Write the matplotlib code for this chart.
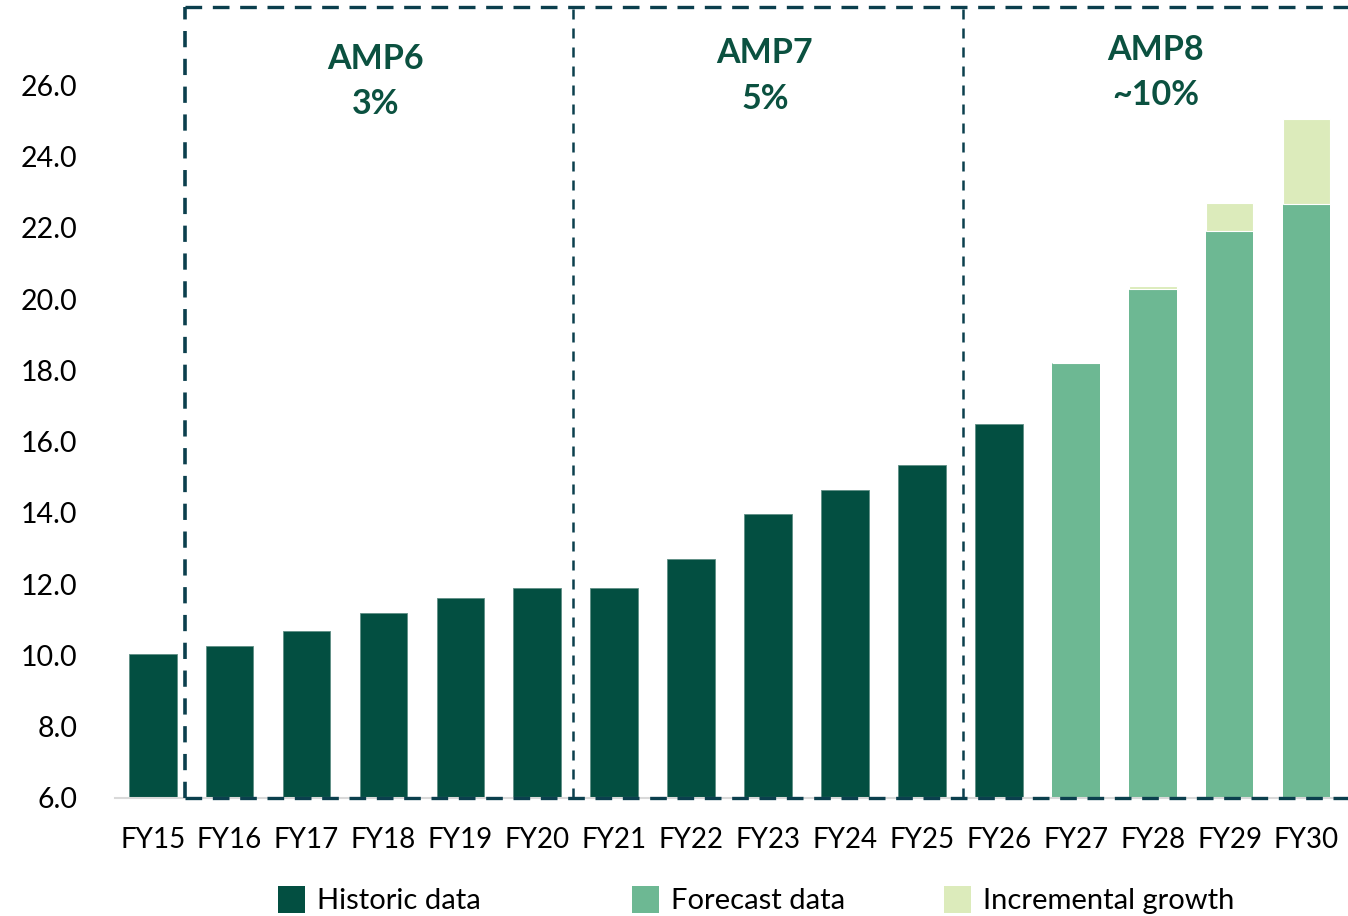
import numpy as np
import matplotlib.pyplot as plt
from matplotlib.patches import Patch

plt.rcParams['font.family'] = ['Lato', 'DejaVu Sans']

years = ['FY15', 'FY16', 'FY17', 'FY18', 'FY19', 'FY20', 'FY21', 'FY22',
         'FY23', 'FY24', 'FY25', 'FY26', 'FY27', 'FY28', 'FY29', 'FY30']
historic = [10.03, 10.28, 10.70, 11.20, 11.60, 11.90, 11.90, 12.70,
            13.98, 14.64, 15.35, 16.51]
forecast = [18.22, 20.28, 21.91, 22.66]
incremental = [0.0, 0.10, 0.78, 2.40]

period_names = ['AMP6', 'AMP7', 'AMP8']
period_growth = ['3%', '5%', '~10%']
period_edges = [0.42, 5.46, 10.53, 16.2]

c_hist = '#034f41'
c_fc = '#6db893'
c_inc = '#dcebbb'
c_box = '#0b3f4d'
c_title = '#0b5140'

fig = plt.figure(figsize=(13.48, 9.16), dpi=100)
ax = fig.add_axes([115 / 1348, 1 - 798 / 916, 1230 / 1348, 791 / 916])

x = np.arange(len(years))
w = 0.62
nh = len(historic)
ax.bar(x[:nh], np.array(historic) - 6, bottom=6, width=w, color=c_hist,
       edgecolor='#5f8f85', linewidth=0.6)
ax.bar(x[nh:], np.array(forecast) - 6, bottom=6, width=w, color=c_fc, linewidth=0)
ax.bar(x[nh:], incremental, bottom=forecast, width=w, color=c_inc,
       edgecolor='white', linewidth=0.8)

ymin, ytop = 6, 28.2
ax.set_ylim(ymin, ytop)
ax.set_xlim(-0.49, 15.5)
ax.set_yticks(np.arange(6, 27, 2))
ax.set_yticklabels([f'{v:.1f}' for v in np.arange(6, 27, 2)], fontsize=20.5)
ax.set_xticks(x)
ax.set_xticklabels(years, fontsize=20)
ax.tick_params(axis='y', length=0, pad=27)
ax.tick_params(axis='x', length=0, pad=21)
for s in ['top', 'right', 'left']:
    ax.spines[s].set_visible(False)
ax.spines['bottom'].set_color('#d9d9d9')
ax.spines['bottom'].set_linewidth(1.5)

# dashed period boxes
box = dict(color=c_box, clip_on=False, zorder=4)
ax.plot([period_edges[0], period_edges[-1]], [ytop, ytop], ls=(0, (5, 3.2)),
        lw=2.4, **box)
ax.plot([period_edges[0], period_edges[-1]], [ymin, ymin], ls=(0, (5, 3.2)),
        lw=2.4, **box)
ax.plot([period_edges[0]] * 2, [ymin, ytop], ls=(0, (4.5, 3.2)), lw=2.6, **box)
for xe in period_edges[1:3]:
    ax.plot([xe, xe], [ymin, ytop], ls=(0, (4, 3.6)), lw=1.8, **box)

name_y = [26.75, 26.9, 27.0]
centres = [2.9, 7.96, 13.04]
for i in range(3):
    ax.text(centres[i], name_y[i], period_names[i], ha='center', va='center',
            fontsize=24.5, fontweight='bold', color=c_title)
    ax.text(centres[i], name_y[i] - 1.27, period_growth[i], ha='center',
            va='center', fontsize=24.5, fontweight='bold', color=c_title)

# legend entries placed one by one
entries = [('Historic data', c_hist, 276), ('Forecast data', c_fc, 630),
           ('Incremental growth', c_inc, 942)]
for name, col, px in entries:
    fig.legend(handles=[Patch(facecolor=col, label=name)],
               loc='center left', bbox_to_anchor=(px / 1348 - 0.0075, 1 - 900 / 916),
               frameon=False, fontsize=21, handlelength=0.95,
               handleheight=1.05, handletextpad=0.4, borderaxespad=0)

fig.savefig('out.png', dpi=100)
